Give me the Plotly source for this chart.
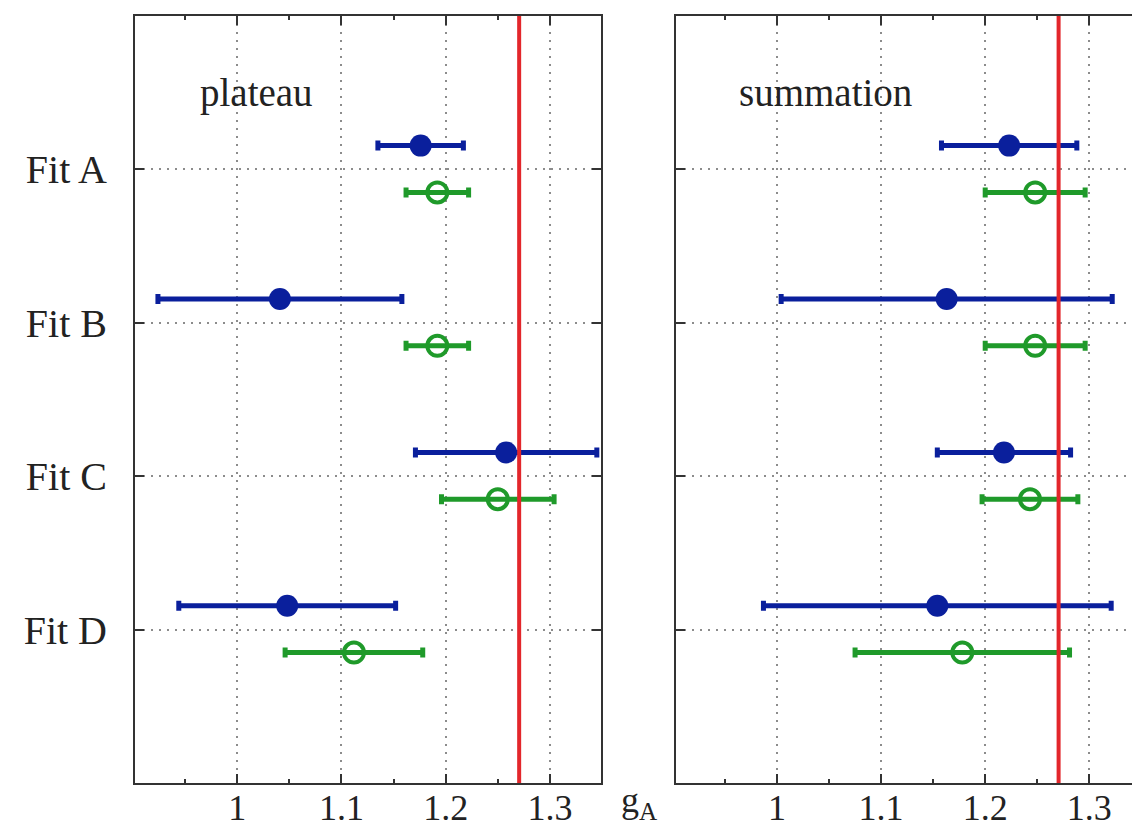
import plotly.graph_objects as go

# ---------------- data ----------------
categories = ["Fit A", "Fit B", "Fit C", "Fit D"]
x_tick_vals = [1.0, 1.1, 1.2, 1.3]
x_tick_labels = ["1", "1.1", "1.2", "1.3"]
x_minor_vals = [0.95, 1.05, 1.15, 1.25]
ga_exp = 1.2705

plateau_blue = [1.176, 1.041, 1.258, 1.048]
plateau_blue_err = [0.041, 0.117, 0.087, 0.104]
plateau_green = [1.192, 1.192, 1.250, 1.112]
plateau_green_err = [0.030, 0.030, 0.054, 0.066]

summation_blue = [1.223, 1.163, 1.218, 1.154]
summation_blue_err = [0.065, 0.159, 0.064, 0.167]
summation_green = [1.248, 1.248, 1.243, 1.178]
summation_green_err = [0.048, 0.048, 0.046, 0.103]

panel_titles = ["plateau", "summation"]

# ---------------- style ----------------
BLUE = "#0a1f9c"
GREEN = "#1f9a2a"
RED = "#e3262b"
FRAME = "#333333"
GRID = "#8c8c8c"
FONT = "Liberation Serif"

n = len(categories)
cat_pos = [n - i for i in range(n)]          # Fit A at top
blue_y = [p + 0.155 for p in cat_pos]
green_y = [p - 0.15 for p in cat_pos]

fig = go.Figure()

panels = [
    (plateau_blue, plateau_blue_err, plateau_green, plateau_green_err, "x", "y"),
    (summation_blue, summation_blue_err, summation_green, summation_green_err, "x2", "y2"),
]
for bx, be, gx, ge, xa, ya in panels:
    fig.add_trace(go.Scatter(
        x=bx, y=blue_y, mode="markers", xaxis=xa, yaxis=ya, showlegend=False,
        marker=dict(symbol="circle", size=22, color=BLUE),
        error_x=dict(type="data", array=be, color=BLUE, thickness=5, width=5),
    ))
    fig.add_trace(go.Scatter(
        x=gx, y=green_y, mode="markers", xaxis=xa, yaxis=ya, showlegend=False,
        marker=dict(symbol="circle-open", size=20, color=GREEN, line=dict(width=4, color=GREEN)),
        error_x=dict(type="data", array=ge, color=GREEN, thickness=5, width=5),
    ))

W, H = 1132, 827
ml, mr, mt, mb = 135, 0, 16, 44
pw = W - ml - mr
ph = H - mt - mb
left_dom = [0, (601 - ml) / pw]
right_dom = [(676 - ml) / pw, 1]

tickfont = dict(family=FONT, size=36, color="#222")

common_x = dict(
    tickvals=x_tick_vals, ticktext=x_tick_labels,
    ticks="inside", ticklen=9, tickwidth=1.5, tickcolor=FRAME,
    showline=True, linecolor=FRAME, linewidth=2,
    showgrid=True, gridcolor=GRID, gridwidth=2, griddash="2px,6px",
    zeroline=False, tickfont=tickfont, ticklabelstandoff=-8, automargin=False,
    minor=dict(tickvals=x_minor_vals, ticks="inside", ticklen=4, tickwidth=1.5,
               tickcolor=FRAME, showgrid=False),
    fixedrange=True,
)
common_y = dict(
    range=[0, n + 1], tickvals=cat_pos,
    ticks="inside", ticklen=9, tickwidth=1.5, tickcolor=FRAME,
    showline=True, linecolor=FRAME, linewidth=2,
    showgrid=True, gridcolor=GRID, gridwidth=2, griddash="2px,6px",
    zeroline=False, fixedrange=True, automargin=False,
)

fig.update_layout(
    width=W, height=H,
    margin=dict(l=ml, r=mr, t=mt, b=mb),
    paper_bgcolor="white", plot_bgcolor="white",
    xaxis=dict(domain=left_dom, range=[0.902, 1.349], anchor="y", mirror="ticks", **common_x),
    yaxis=dict(domain=[0, 1], anchor="x", mirror="ticks", ticktext=categories,
               tickfont=dict(family=FONT, size=40, color="#222"),
               ticklabelstandoff=18, **common_y),
    xaxis2=dict(domain=right_dom, range=[0.903, 1.341], anchor="y2", mirror="ticks", **common_x),
    yaxis2=dict(domain=[0, 1], anchor="x2", mirror=False, showticklabels=False,
                **common_y),
)

# red reference line
for xa, ya in [("x", "y"), ("x2", "y2")]:
    fig.add_shape(type="line", xref=xa, yref=f"{ya} domain", x0=ga_exp, x1=ga_exp,
                  y0=0, y1=1, line=dict(color=RED, width=4), layer="above")

# panel labels
fig.add_annotation(text=panel_titles[0], xref="x domain", yref="y domain",
                   x=(256 - 135) / 466, y=(783 - 93) / ph, showarrow=False,
                   xanchor="center", yanchor="middle",
                   font=dict(family=FONT, size=39, color="#222"))
fig.add_annotation(text=panel_titles[1], xref="x2 domain", yref="y2 domain",
                   x=(825 - 676) / 456, y=(783 - 93) / ph, showarrow=False,
                   xanchor="center", yanchor="middle",
                   font=dict(family=FONT, size=39, color="#222"))
# axis label g_A
fig.add_annotation(text="g<sub>A</sub>", xref="paper", yref="paper",
                   x=(639 - ml) / pw, y=(783 - 802) / ph, showarrow=False,
                   xanchor="center", yanchor="middle",
                   font=dict(family=FONT, size=36, color="#222"))

fig.write_html("out.html", config={"displayModeBar": False},
               post_script="document.body.style.margin='0';document.body.style.overflow='hidden';")
